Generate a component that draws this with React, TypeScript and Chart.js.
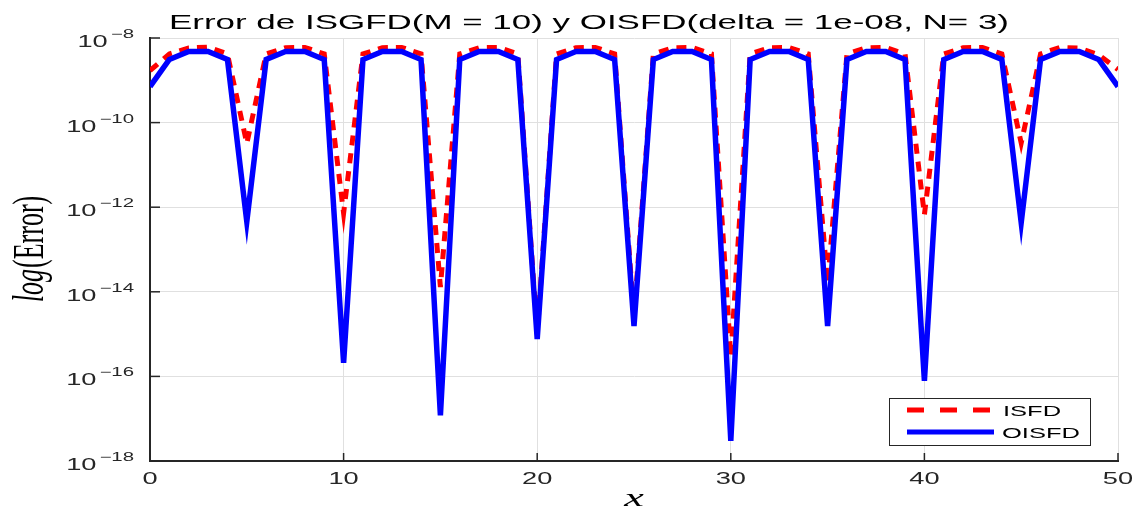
import { useEffect, useRef } from 'react';
import { Chart, registerables } from 'chart.js';

Chart.register(...registerables);

const TITLE = 'Error de ISGFD(M = 10) y OISFD(delta = 1e-08, N= 3)';
const X_LABEL = 'x';
const Y_LABEL_ITALIC = 'log';
const Y_LABEL_ROMAN = '(Error)';
const SERIES_NAMES = ['ISFD', 'OISFD'];

const X_VALUES = [
  0, 1, 2, 3, 4, 5, 6, 7, 8, 9, 10, 11, 12, 13, 14, 15, 16, 17, 18, 19, 20, 21, 22, 23, 24, 25,
  26, 27, 28, 29, 30, 31, 32, 33, 34, 35, 36, 37, 38, 39, 40, 41, 42, 43, 44, 45, 46, 47, 48, 49, 50,
];

const ISFD = [
  1.7e-9, 4.2e-9, 5.8e-9, 6.1e-9, 4.2e-9, 3.2e-11,
  4.2e-9, 5.9e-9, 6.0e-9, 4.2e-9, 7.2e-13,
  4.2e-9, 5.9e-9, 6.0e-9, 4.2e-9, 1.3e-14,
  4.2e-9, 5.9e-9, 6.0e-9, 4.2e-9, 1.0e-15,
  4.2e-9, 5.9e-9, 6.0e-9, 4.2e-9, 2.5e-15,
  4.2e-9, 5.9e-9, 6.0e-9, 4.2e-9, 2.9e-16,
  4.2e-9, 5.9e-9, 6.0e-9, 4.2e-9, 1.6e-14,
  4.2e-9, 5.9e-9, 6.0e-9, 4.2e-9, 6.6e-13,
  4.2e-9, 5.9e-9, 6.0e-9, 4.2e-9, 3.3e-11,
  4.2e-9, 6.0e-9, 5.8e-9, 4.0e-9, 1.8e-9,
];

const OISFD = [
  7.1e-10, 3.1e-9, 4.8e-9, 4.8e-9, 3.1e-9, 4.6e-13,
  3.1e-9, 4.8e-9, 4.8e-9, 3.1e-9, 2.1e-16,
  3.1e-9, 4.8e-9, 4.8e-9, 3.1e-9, 1.2e-17,
  3.1e-9, 4.8e-9, 4.8e-9, 3.1e-9, 7.6e-16,
  3.1e-9, 4.8e-9, 4.8e-9, 3.1e-9, 1.55e-15,
  3.1e-9, 4.8e-9, 4.8e-9, 3.1e-9, 3.0e-18,
  3.1e-9, 4.8e-9, 4.8e-9, 3.1e-9, 1.55e-15,
  3.1e-9, 4.8e-9, 4.8e-9, 3.1e-9, 7.9e-17,
  3.1e-9, 4.8e-9, 4.8e-9, 3.1e-9, 4.3e-13,
  3.1e-9, 4.8e-9, 4.8e-9, 3.1e-9, 7.1e-10,
];

const X_TICKS = [0, 10, 20, 30, 40, 50];
const Y_TICKS = [1e-18, 1e-16, 1e-14, 1e-12, 1e-10, 1e-8];
const Y_TICK_EXPONENTS = ['\u221218', '\u221216', '\u221214', '\u221212', '\u221210', '\u22128'];

const SX = 1.7;
const SANS = '"Liberation Sans", Arial, sans-serif';
const SERIF = '"Liberation Serif", "Times New Roman", serif';
const AXIS = '#262626';
const GRID = '#e0e0e0';
const RED = '#ff0000';
const BLUE = '#0000ff';

function drawText(ctx: CanvasRenderingContext2D, text: string, x: number, y: number, font: string, align: CanvasTextAlign, color: string, sx = SX) {
  ctx.save();
  ctx.font = font;
  ctx.fillStyle = color;
  ctx.textBaseline = 'alphabetic';
  ctx.textAlign = align;
  ctx.translate(x, y);
  ctx.scale(sx, 1);
  ctx.fillText(text, 0, 0);
  ctx.restore();
}

const figurePlugin = {
  id: 'figureText',
  afterDraw(chart: any) {
    const ctx: CanvasRenderingContext2D = chart.ctx;
    const { left, right, top, bottom } = chart.chartArea;
    const xs = chart.scales.x;
    const ys = chart.scales.y;

    // inward ticks
    ctx.save();
    ctx.strokeStyle = AXIS;
    ctx.lineWidth = 1.5;
    Y_TICKS.forEach((v) => {
      const y = ys.getPixelForValue(v);
      ctx.beginPath();
      ctx.moveTo(left, y);
      ctx.lineTo(left + 10, y);
      ctx.stroke();
    });
    X_TICKS.forEach((v) => {
      const x = xs.getPixelForValue(v);
      ctx.beginPath();
      ctx.moveTo(x, bottom);
      ctx.lineTo(x, bottom - 8);
      ctx.stroke();
    });
    ctx.restore();

    // title
    ctx.save();
    ctx.font = `20px ${SANS}`;
    const tw = ctx.measureText(TITLE).width;
    ctx.restore();
    drawText(ctx, TITLE, 589, 29, `20px ${SANS}`, 'center', '#000', 840 / tw);

    // y tick labels 10^n
    Y_TICKS.forEach((v, i) => {
      const y = ys.getPixelForValue(v);
      const exp = Y_TICK_EXPONENTS[i];
      ctx.save();
      ctx.font = `12px ${SANS}`;
      const ew = ctx.measureText(exp).width * SX;
      ctx.restore();
      const rightEdge = left - 16;
      drawText(ctx, exp, rightEdge, y, `12px ${SANS}`, 'right', AXIS);
      drawText(ctx, '10', rightEdge - ew - 3, y + 9, `16px ${SANS}`, 'right', AXIS);
    });

    // x tick labels
    X_TICKS.forEach((v) => {
      const x = xs.getPixelForValue(v);
      drawText(ctx, String(v), x, bottom + 23, `16px ${SANS}`, 'center', AXIS);
    });

    // x axis title
    drawText(ctx, X_LABEL, (left + right) / 2, 506, `italic 26px ${SERIF}`, 'center', '#000');

    // y axis title (rotated, mixed italic/roman)
    ctx.save();
    ctx.translate(43, (top + bottom) / 2);
    ctx.scale(SX, 1);
    ctx.rotate(-Math.PI / 2);
    ctx.fillStyle = '#000';
    ctx.textBaseline = 'alphabetic';
    ctx.textAlign = 'left';
    ctx.font = `italic 26px ${SERIF}`;
    const w1 = ctx.measureText(Y_LABEL_ITALIC).width;
    ctx.font = `26px ${SERIF}`;
    const w2 = ctx.measureText(Y_LABEL_ROMAN).width;
    const start = -(w1 + w2) / 2;
    ctx.font = `italic 26px ${SERIF}`;
    ctx.fillText(Y_LABEL_ITALIC, start, 0);
    ctx.font = `26px ${SERIF}`;
    ctx.fillText(Y_LABEL_ROMAN, start + w1 + 1, 0);
    ctx.restore();

    // legend box
    const bx = 889.5, by = 398.5, bw = 201, bh = 47;
    ctx.save();
    ctx.fillStyle = '#fff';
    ctx.fillRect(bx, by, bw, bh);
    ctx.strokeStyle = '#262626';
    ctx.lineWidth = 1;
    ctx.strokeRect(bx, by, bw, bh);
    ctx.lineCap = 'butt';
    ctx.strokeStyle = RED;
    ctx.lineWidth = 5;
    ctx.setLineDash([17, 16]);
    ctx.beginPath();
    ctx.moveTo(907, 410);
    ctx.lineTo(993, 410);
    ctx.stroke();
    ctx.setLineDash([]);
    ctx.strokeStyle = BLUE;
    ctx.lineWidth = 5;
    ctx.beginPath();
    ctx.moveTo(907, 432);
    ctx.lineTo(994, 432);
    ctx.stroke();
    ctx.restore();
    drawText(ctx, SERIES_NAMES[0], 1003, 416, `15px ${SANS}`, 'left', '#000');
    drawText(ctx, SERIES_NAMES[1], 1002, 438, `15px ${SANS}`, 'left', '#000');
  },
};

export default function App() {
  const ref = useRef<HTMLCanvasElement | null>(null);

  useEffect(() => {
    if (!ref.current) return;
    const chart = new Chart(ref.current, {
      type: 'line',
      data: {
        datasets: [
          {
            label: SERIES_NAMES[0],
            data: X_VALUES.map((x, i) => ({ x, y: ISFD[i] })),
            borderColor: RED,
            borderWidth: 5,
            borderDash: [10, 8],
            pointRadius: 0,
            fill: false,
            tension: 0,
            order: 2,
          },
          {
            label: SERIES_NAMES[1],
            data: X_VALUES.map((x, i) => ({ x, y: OISFD[i] })),
            borderColor: BLUE,
            borderWidth: 5.5,
            pointRadius: 0,
            fill: false,
            tension: 0,
            order: 1,
          },
        ],
      },
      options: {
        animation: false,
        responsive: true,
        maintainAspectRatio: false,
        layout: { padding: { top: 38, right: 14, left: 0, bottom: 0 } },
        plugins: {
          legend: { display: false },
          title: { display: false, text: TITLE },
          tooltip: { enabled: false },
        },
        scales: {
          x: {
            type: 'linear',
            min: 0,
            max: 50,
            ticks: { display: false, stepSize: 10 },
            afterBuildTicks: (s: any) => {
              s.ticks = X_TICKS.map((v) => ({ value: v }));
            },
            afterFit: (s: any) => {
              s.height = 52;
            },
            grid: { color: GRID, lineWidth: 1, drawTicks: false },
            border: { display: true, color: AXIS, width: 2 },
          },
          y: {
            type: 'logarithmic',
            min: 1e-18,
            max: 1e-8,
            ticks: { display: false },
            afterBuildTicks: (s: any) => {
              s.ticks = Y_TICKS.map((v) => ({ value: v }));
            },
            afterFit: (s: any) => {
              s.width = 150;
            },
            grid: { color: GRID, lineWidth: 1, drawTicks: false },
            border: { display: true, color: AXIS, width: 2 },
          },
        },
      },
      plugins: [figurePlugin],
    } as any);
    return () => chart.destroy();
  }, []);

  return (
    <div style={{ position: 'fixed', left: 0, top: 0, width: 1132, height: 513, background: '#fff' }}>
      <canvas ref={ref} />
    </div>
  );
}
